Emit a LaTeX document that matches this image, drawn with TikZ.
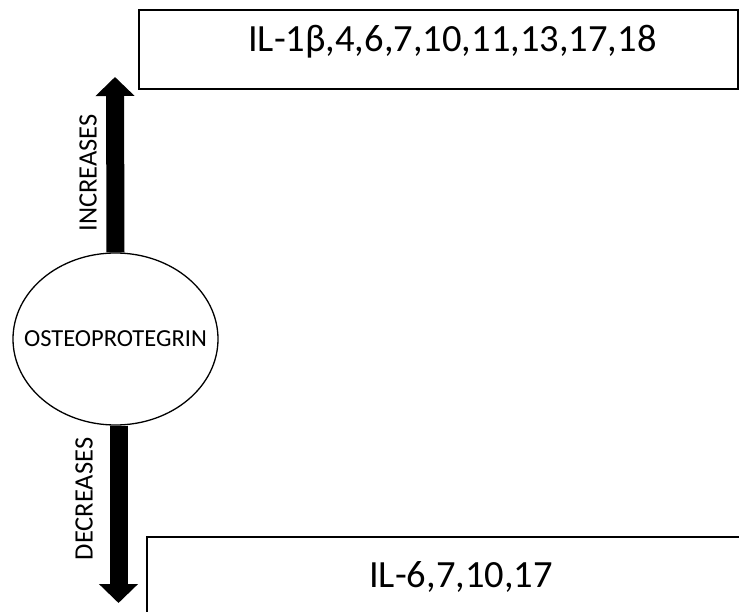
\documentclass[tikz,border=0pt]{standalone}
\usepackage{fontspec}
\setmainfont{Carlito}
\usetikzlibrary{shapes.geometric,arrows.meta}
\begin{document}
\begin{tikzpicture}[x=1pt,y=-1pt,
  boxframe/.style={draw, line width=1.8pt, rectangle, inner sep=0pt},
  bigtext/.style={font=\fontsize{38.5}{40}\selectfont, inner sep=0pt},
  sidetext/.style={font=\fontsize{26.5}{28}\selectfont, inner sep=0pt, rotate=90},
  fatarrow/.style={line width=18pt, -{Triangle[width=38pt,length=19pt]}}]
\useasboundingbox (0,0) rectangle (739,612);

% result boxes
\node[boxframe, minimum width=599pt, minimum height=79pt] (upbox) at (438.5,49.5) {};
\node[boxframe, minimum width=610pt, minimum height=90pt] (downbox) at (452,582) {};
\node[bigtext, anchor=base west] (uptext) at (248,52) {IL-1β,4,6,7,10,11,13,17,18};
\node[bigtext, anchor=base west] (downtext) at (369,587) {IL-6,7,10,17};

% central molecule
\node[draw, ellipse, line width=1.3pt, minimum width=205pt, minimum height=172pt,
      inner sep=0pt] (opg) at (115.5,339) {};
\node[font=\fontsize{24.5}{26}\selectfont, inner sep=0pt] (opgtext) at (opg.center) {OSTEOPROTEGRIN};

% effect arrows
\coordinate (uptip) at (115,77);
\coordinate (downtip) at (118.5,603);
\draw[fatarrow] (opg.north) -- (uptip);
\draw[fatarrow] ([xshift=3pt]opg.south) -- (downtip);
\node[sidetext] (inc) at (88,173) {INCREASES};
\node[sidetext] (dec) at (84,499) {DECREASES};
\end{tikzpicture}
\end{document}
